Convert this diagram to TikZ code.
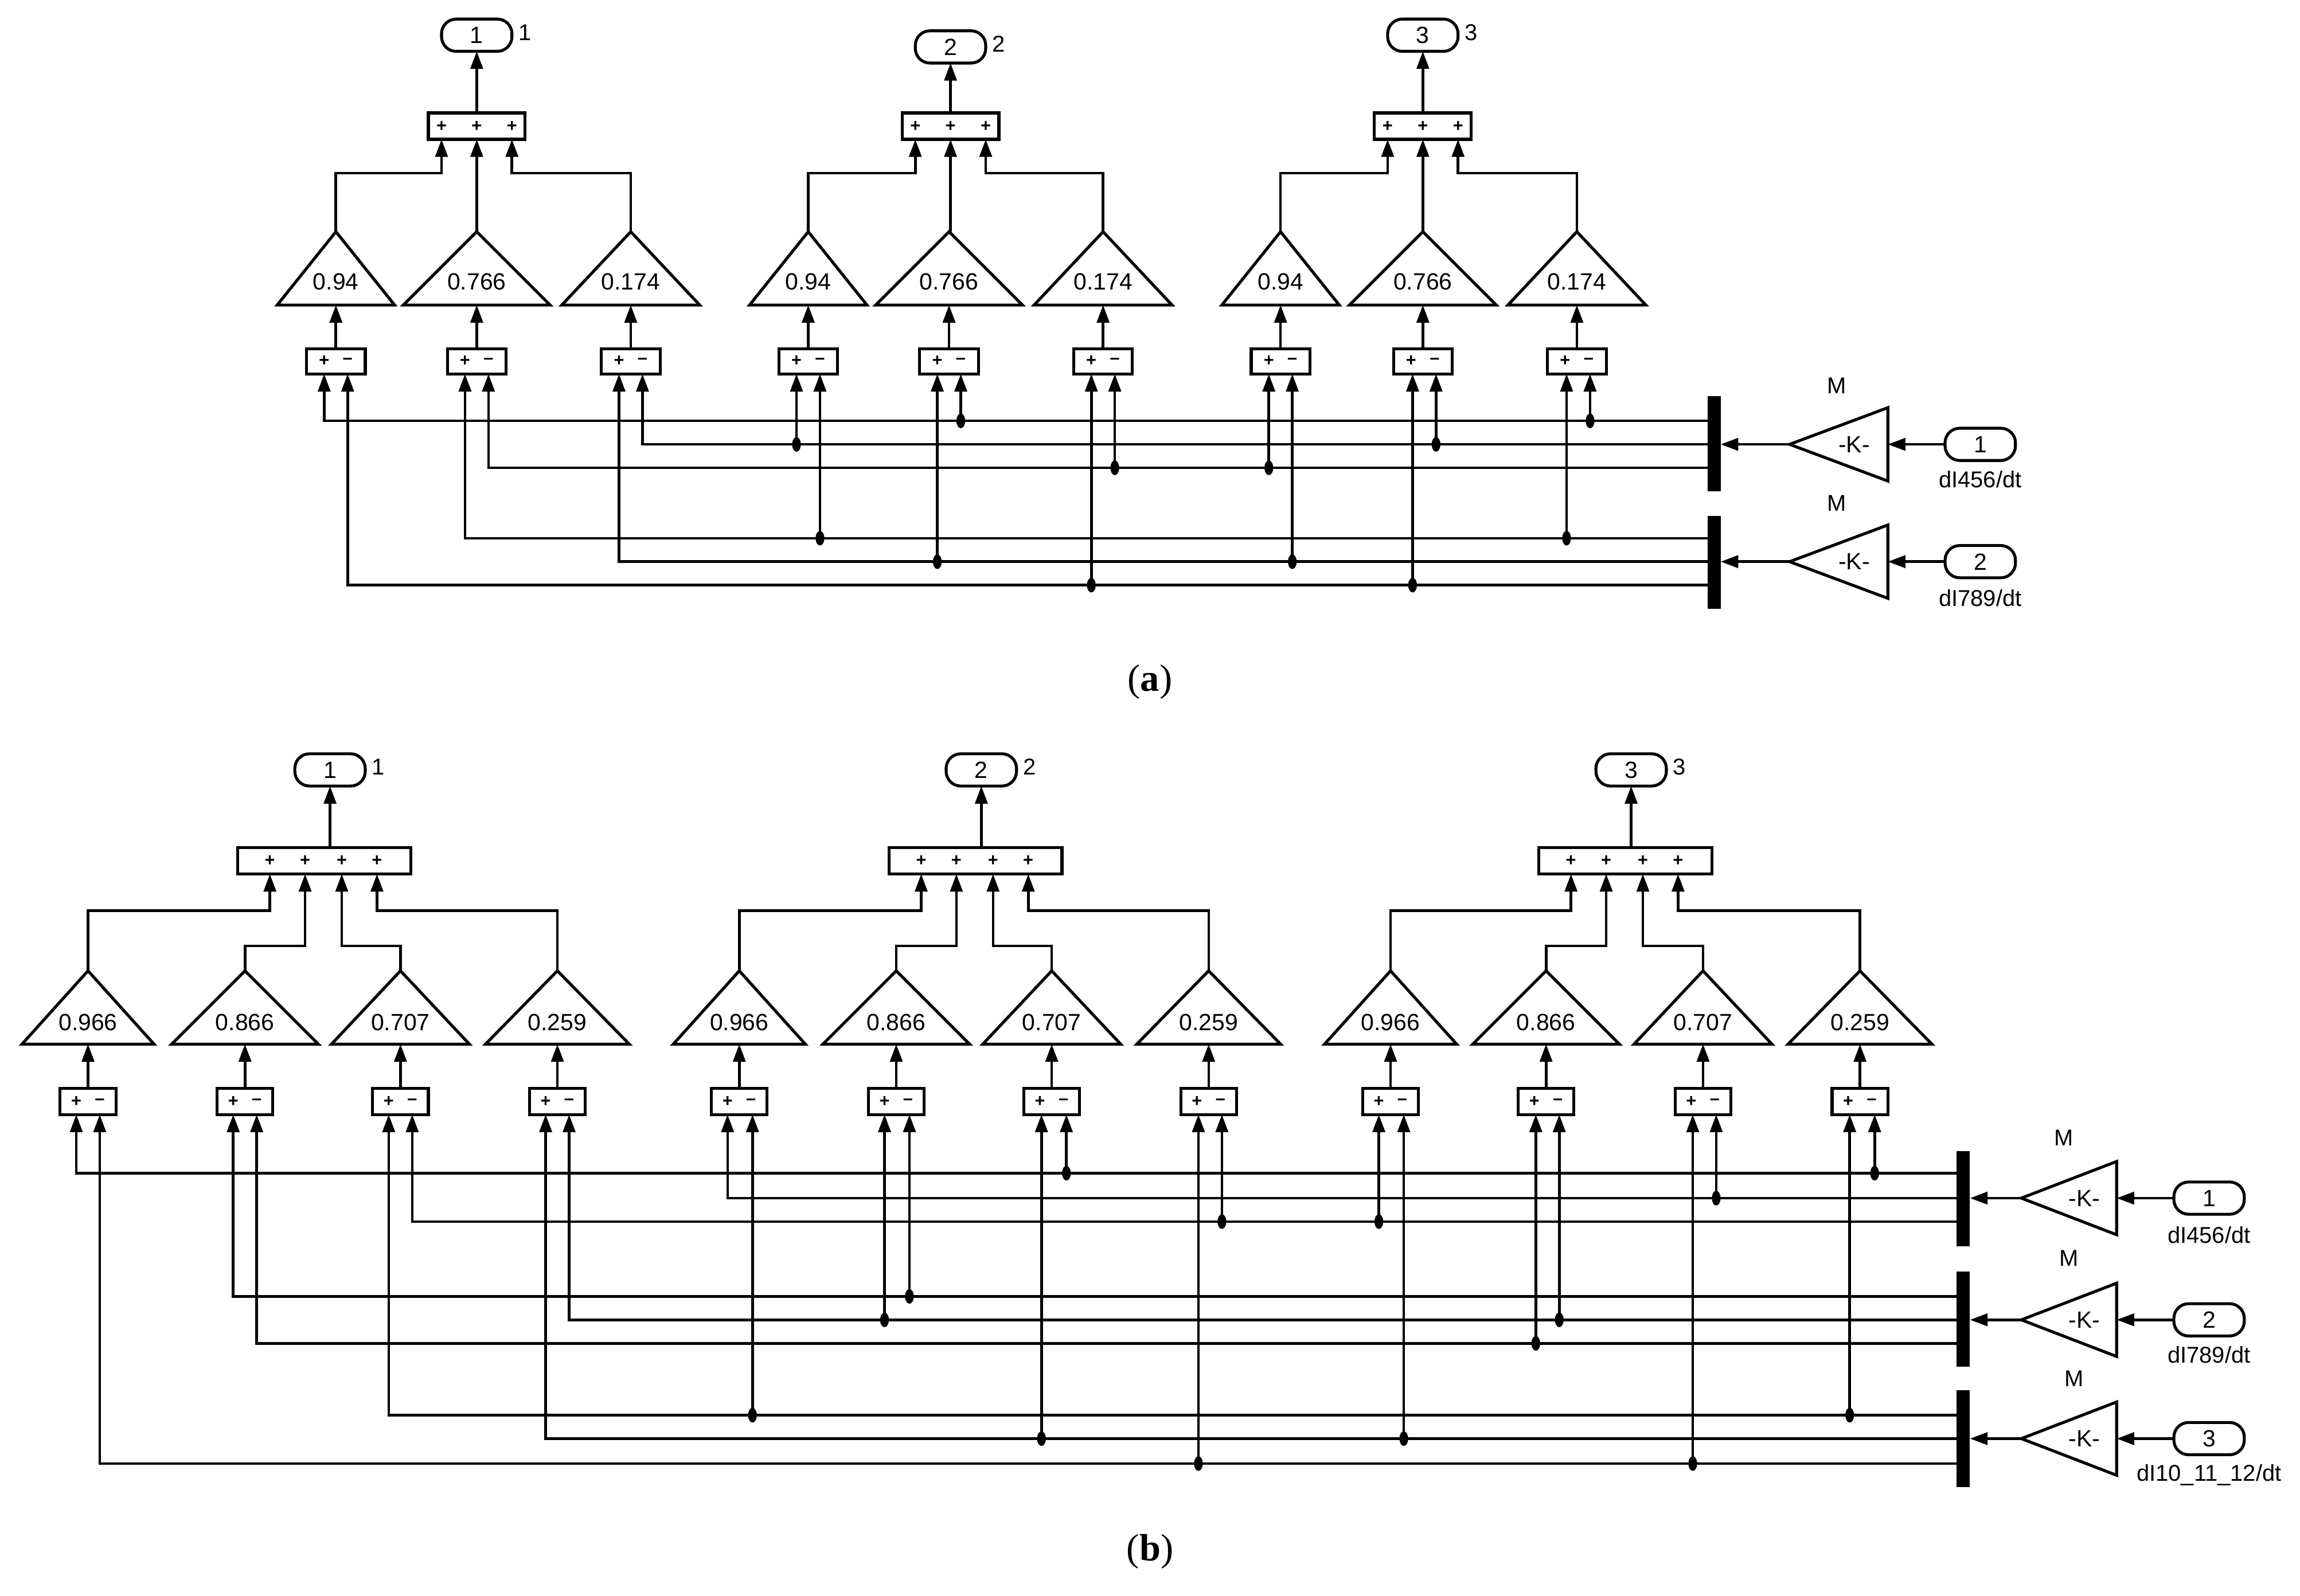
\documentclass[tikz,border=0pt]{standalone}
\usepackage{fontspec}
\setmainfont{Liberation Sans}
\newfontfamily\capfont{Liberation Serif}
\usetikzlibrary{arrows.meta,shapes.geometric}
\begin{document}
\begin{tikzpicture}[x=0.5pt,y=-0.5pt,
  ln/.style={line width=0.9pt},
  arr/.style={line width=0.9pt,-{Triangle[length=6pt,width=4.2pt]}},
  blk/.style={line width=1pt,fill=white},
  dot/.style={ellipse,fill,inner sep=0pt,minimum width=3pt,minimum height=5pt},
  gtxt/.style={font=\fontsize{8}{9}\selectfont,inner sep=0pt},
  stxt/.style={font=\fontsize{6}{7}\selectfont\bfseries,inner sep=0pt},
  ltxt/.style={font=\fontsize{7.8}{9}\selectfont,inner sep=0pt},
  bar/.style={fill=black},
  captxt/.style={font=\capfont\fontsize{13}{15}\selectfont,inner sep=0pt}]
\useasboundingbox (0,0) rectangle (1568,1088);
\fill[white] (0,0) rectangle (1568,1088);

% ================= (a) =================
\foreach \c/\hw/\t in {229/40/0.94,325/50/0.766,430/47/0.174,551/40/0.94,647/50/0.766,752/47/0.174,873/40/0.94,970/50/0.766,1075/47/0.174}{
  \draw[blk] ({\c-\hw},208) -- (\c,158) -- ({\c+\hw},208) -- cycle;
  \node[gtxt] (ga\c) at (\c,192) {\t};
  \draw[blk] ({\c-20},238) rectangle ({\c+20},255);
  \node[stxt] at ({\c-8},246) {+};
  \node[stxt] at ({\c+8},246) {--};
  \draw[arr] (\c,238) -- (\c,208);
}
\foreach \s/\l/\m/\r/\oy/\n in {325/229/325/430/24/1,648/551/647/752/32/2,970/873/970/1075/24/3}{
  \draw[blk] ({\s-33},77) rectangle ({\s+33},95);
  \foreach \dx in {-24,0,24}{\node[stxt] at ({\s+\dx},86) {+};}
  \draw[arr] (\l,158) -- (\l,118) -- ({\s-24},118) -- ({\s-24},95);
  \draw[arr] (\s,158) -- (\s,95);
  \draw[arr] (\r,158) -- (\r,118) -- ({\s+24},118) -- ({\s+24},95);
  \draw[blk,rounded corners=5pt] ({\s-24},{\oy-11}) rectangle ({\s+24},{\oy+11});
  \node[gtxt] (oa\n) at (\s,\oy) {\n};
  \node[ltxt] at ({\s+33},{\oy-2}) {\n};
  \draw[arr] (\s,77) -- (\s,{\oy+11});
}
\foreach \y/\xl/\ds in {287/221/{655,1084},303/438/{543,979},319/333/{760,865},367/317/{559,1068},383/422/{639,881},399/237/{744,963}}{
  \draw[arr] (1164,\y) -| (\xl,255);
  \foreach \d in \ds {\draw[arr] (\d,\y) -- (\d,255); \node[dot] at (\d,\y) {};}
}
\fill[bar] (1164,270) rectangle (1173,335);
\fill[bar] (1164,352) rectangle (1173,415);
\foreach \y/\n/\my in {303/1/263,383/2/343}{
  \draw[blk] (1287,{\y-25}) -- (1220,\y) -- (1287,{\y+25}) -- cycle;
  \node[gtxt] at (1264,\y) {-K-};
  \node[ltxt] at (1252,\my) {M};
  \draw[arr] (1220,\y) -- (1173,\y);
  \draw[blk,rounded corners=5pt] (1326,{\y-11}) rectangle (1374,{\y+11});
  \node[gtxt] at (1350,\y) {\n};
  \draw[arr] (1326,\y) -- (1287,\y);
}
\node[ltxt] at (1350,327) {dI456/dt};
\node[ltxt] at (1350,408) {dI789/dt};
\node[captxt] at (784,465) {(\textbf{a})};

% ================= (b) =================
\foreach \c/\hw/\t in {60/45/0.966,167/50/0.866,273/47/0.707,380/49/0.259,504/45/0.966,611/50/0.866,717/47/0.707,824/49/0.259,948/45/0.966,1054/50/0.866,1161/47/0.707,1268/49/0.259}{
  \draw[blk] ({\c-\hw},712) -- (\c,662) -- ({\c+\hw},712) -- cycle;
  \node[gtxt] (gb\c) at (\c,697) {\t};
  \draw[blk] ({\c-19},742) rectangle ({\c+19},760);
  \node[stxt] at ({\c-8},751) {+};
  \node[stxt] at ({\c+8},751) {--};
  \draw[arr] (\c,742) -- (\c,712);
}
\foreach \s/\a/\b/\cc/\d/\n in {221/60/167/273/380/1,665/504/611/717/824/2,1108/948/1054/1161/1268/3}{
  \draw[blk] ({\s-59},578) rectangle ({\s+59},596);
  \foreach \dx in {-37,-13,12,36}{\node[stxt] at ({\s+\dx},587) {+};}
  \draw[arr] (\a,662) -- (\a,621) -- ({\s-37},621) -- ({\s-37},596);
  \draw[arr] (\b,662) -- (\b,645) -- ({\s-13},645) -- ({\s-13},596);
  \draw[arr] (\cc,662) -- (\cc,645) -- ({\s+12},645) -- ({\s+12},596);
  \draw[arr] (\d,662) -- (\d,621) -- ({\s+36},621) -- ({\s+36},596);
  \draw[blk,rounded corners=5pt] ({\s-20},514) rectangle ({\s+28},536);
  \node[gtxt] (ob\n) at ({\s+4},525) {\n};
  \node[ltxt] at ({\s+37},523) {\n};
  \draw[arr] ({\s+4},578) -- ({\s+4},536);
}
\foreach \y/\xl/\ds in {800/52/{727,1278},817/496/{1170},833/281/{833,940},884/159/{620},900/388/{603,1063},916/175/{1047},965/265/{513,1261},981/372/{710,957},998/68/{817,1154}}{
  \draw[arr] (1334,\y) -| (\xl,760);
  \foreach \dd in \ds {\draw[arr] (\dd,\y) -- (\dd,760); \node[dot] at (\dd,\y) {};}
}
\fill[bar] (1334,785) rectangle (1343,850);
\fill[bar] (1334,867) rectangle (1343,932);
\fill[bar] (1334,948) rectangle (1343,1014);
\foreach \y/\n/\my in {817/1/776,900/2/858,981/3/940}{
  \draw[blk] (1443,{\y-25}) -- (1378,\y) -- (1443,{\y+25}) -- cycle;
  \node[gtxt] at (1421,\y) {-K-};
  \node[ltxt] at ({1407+(\n-1)*3.5},\my) {M};
  \draw[arr] (1378,\y) -- (1343,\y);
  \draw[blk,rounded corners=5pt] (1482,{\y-11}) rectangle (1530,{\y+11});
  \node[gtxt] at (1506,\y) {\n};
  \draw[arr] (1482,\y) -- (1443,\y);
}
\node[ltxt] at (1506,842) {dI456/dt};
\node[ltxt] at (1506,924) {dI789/dt};
\node[ltxt] at (1506,1006) {dI10\_11\_12/dt};
\node[captxt] at (784,1058) {(\textbf{b})};
\end{tikzpicture}
\end{document}
